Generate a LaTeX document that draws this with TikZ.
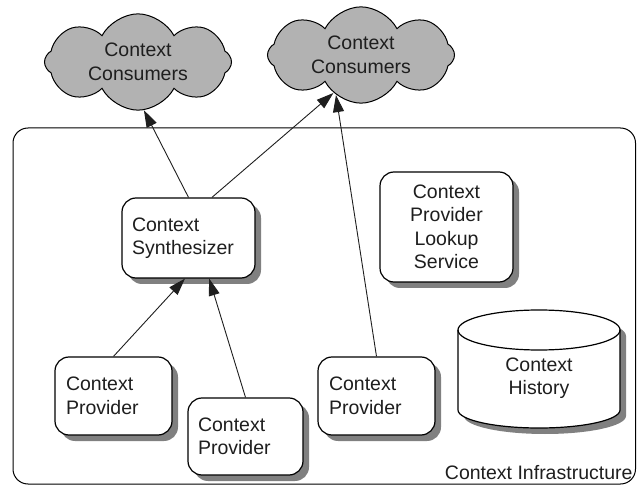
\documentclass[tikz,border=0pt]{standalone}
\usepackage{fontspec}
\setmainfont{Liberation Sans}
\usetikzlibrary{shapes.symbols,shadows,arrows.meta}
\definecolor{cloudgray}{RGB}{178,178,178}
\definecolor{shadowgray}{RGB}{128,128,128}
\definecolor{inkcol}{RGB}{30,30,30}
\tikzset{
  lbl/.style={font=\fontsize{19.5}{23.5}\selectfont, text=inkcol},
  consumer/.style={cloud, cloud puffs=8, cloud puff arc=125, aspect=2.05,
    draw=black, line width=1pt, fill=cloudgray, inner sep=0pt,
    minimum width=187pt, minimum height=90pt, lbl, align=center},
  compbox/.style={rectangle, rounded corners=14pt, draw=black, line width=1.2pt,
    fill=white, lbl, align=left, inner sep=0pt,
    general shadow={fill=shadowgray, shadow xshift=6pt, shadow yshift=-6pt}},
  flow/.style={-{Triangle[length=17pt,width=11pt]}, line width=0.9pt, draw=inkcol}
}
\begin{document}
\begin{tikzpicture}[x=1pt,y=-1pt]
\useasboundingbox (0,0) rectangle (638,489);

% infrastructure frame
\draw[line width=1pt, rounded corners=15pt] (13,128) rectangle (635.5,484);
\node[lbl, anchor=east] (infra) at (636,473) {Context Infrastructure};

% consumers
\node[consumer] (c1) at (138,62) {Context\\Consumers};
\node[consumer] (c2) at (361,55) {Context\\Consumers};

% components
\node[compbox, minimum width=133pt, minimum height=80pt, text width=113pt]
  (syn) at (188.5,238) {Context\\Synthesizer};
\node[compbox, minimum width=117pt, minimum height=78pt, text width=95pt]
  (p1) at (113.5,396) {Context\\Provider};
\node[compbox, minimum width=115pt, minimum height=77pt, text width=95pt]
  (p2) at (245.5,436.5) {Context\\Provider};
\node[compbox, minimum width=117pt, minimum height=78pt, text width=95pt]
  (p3) at (376.5,396) {Context\\Provider};
\node[compbox, minimum width=133pt, minimum height=110pt, align=center]
  (look) at (446.5,227) {Context\\Provider\\Lookup\\Service};

% history store
\fill[shadowgray] (464,336) -- (464,416) arc[start angle=180, end angle=360, x radius=81pt, y radius=18pt]
  -- (626,336) arc[start angle=0, end angle=180, x radius=81pt, y radius=20pt] -- cycle;
\filldraw[fill=white, draw=black, line width=1.2pt] (458,330) -- (458,410)
  arc[start angle=180, end angle=360, x radius=81pt, y radius=18pt]
  -- (620,330) arc[start angle=0, end angle=180, x radius=81pt, y radius=20pt] -- cycle;
\draw[line width=1.2pt] (458,330) arc[start angle=180, end angle=360, x radius=81pt, y radius=20pt];
\node[lbl, align=center] (hist) at (539,378) {Context\\History};

% data flow
\draw[flow] (syn.north) -- (c1.277);
\draw[flow] (syn.60) -- (c2.234);
\draw[flow] (p3.north) -- (c2.238);
\draw[flow] (p1.north) -- (syn.265);
\draw[flow] (p2.north) -- (syn.297);
\end{tikzpicture}
\end{document}
